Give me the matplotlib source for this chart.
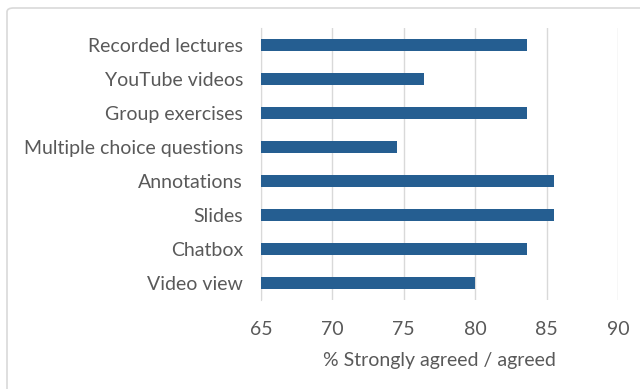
import matplotlib.pyplot as plt
from matplotlib.patches import FancyBboxPatch

# share of respondents (n=55) who strongly agreed / agreed, per feature
features = ['Recorded lectures', 'YouTube videos', 'Group exercises',
            'Multiple choice questions', 'Annotations', 'Slides',
            'Chatbox', 'Video view']
pct_agree = [83.6, 76.4, 83.6, 74.5, 85.5, 85.5, 83.6, 80.0]
x_ticks = [65, 70, 75, 80, 85, 90]

bar_color = '#255E91'
text_color = '#595959'
grid_color = '#D9D9D9'

plt.rcParams['font.family'] = ['Lato', 'DejaVu Sans']

fig = plt.figure(figsize=(6.4, 3.89), dpi=100)
ax = fig.add_axes([261 / 640, 89 / 389, 357 / 640, 272 / 389])

ypos = list(range(len(features)))
ax.barh(ypos, [v - x_ticks[0] for v in pct_agree], left=x_ticks[0],
        height=0.38, color=bar_color, zorder=3)

ax.set_xlim(x_ticks[0], x_ticks[-1])
ax.set_ylim(len(features) - 0.5, -0.5)
ax.set_xticks(x_ticks)
ax.set_xticklabels([str(t) for t in x_ticks])
ax.set_yticks(ypos)
ax.set_yticklabels(features)
ax.tick_params(axis='both', length=0, labelsize=14, colors=text_color)
ax.tick_params(axis='y', pad=13)
ax.tick_params(axis='x', pad=15)
ax.grid(axis='x', color=grid_color, lw=1, zorder=0)
for s in ['top', 'right', 'bottom']:
    ax.spines[s].set_visible(False)
ax.spines['left'].set_color(grid_color)
ax.set_xlabel('% Strongly agreed / agreed', fontsize=14, color=text_color,
              labelpad=10)

# chart frame
frame = FancyBboxPatch((7 / 640, -0.05), 1.0, 0.05 + (389 - 8) / 389,
                       boxstyle='round,pad=0,rounding_size=0.01',
                       transform=fig.transFigure, fill=False,
                       edgecolor='#D9D9D9', lw=1.2, clip_on=False)
fig.patches.append(frame)

fig.savefig('out.png', dpi=100)
